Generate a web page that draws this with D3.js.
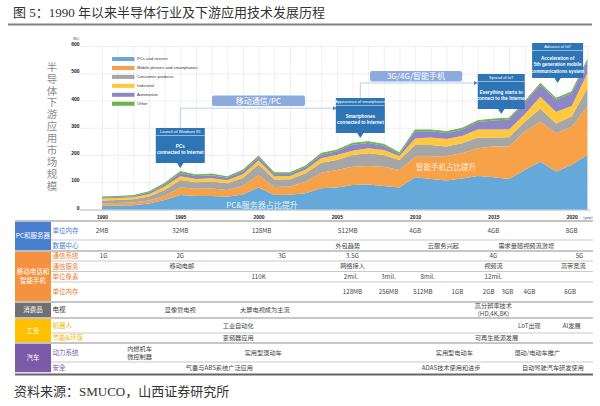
<!DOCTYPE html>
<html>
<head>
<meta charset="utf-8">
<script src="https://cdn.jsdelivr.net/npm/d3@7"></script>
<style>
  body { margin: 0; background: #fff; }
  svg { display: block; font-family: "Noto Sans CJK SC", "Noto Sans", sans-serif; }
</style>
</head>
<body>
<div id="chart"></div>
<script>
// chart data (B$)
var years = [1990, 1991, 1992, 1993, 1994, 1995, 1996, 1997, 1998, 1999, 2000, 2001, 2002, 2003, 2004, 2005,
             2006, 2007, 2008, 2009, 2010, 2011, 2012, 2013, 2014, 2015, 2016, 2017, 2018, 2019, 2020, 2021];
var pcs = [14, 15, 16, 22, 35, 53, 50, 50, 47, 55, 81, 53, 54, 60, 78, 81, 90, 92, 86, 81, 118, 112, 106, 114, 123, 118, 112, 145, 175, 139, 163, 200];
var mobile = [8, 9, 10, 11, 15, 28, 26, 27, 25, 32, 46, 30, 30, 42, 57, 64, 67, 68, 71, 64, 76, 82, 90, 92, 102, 113, 119, 141, 147, 141, 141, 177];
var consumer = [11, 11, 12, 15, 22, 27, 24, 26, 24, 29, 38, 27, 27, 31, 37, 37, 43, 46, 43, 37, 43, 43, 35, 37, 39, 33, 34, 36, 48, 36, 37, 68];
var industrial = [7, 7, 7, 8, 12, 14, 12, 12, 11, 13, 15, 12, 12, 13, 16, 18, 16, 19, 18, 14, 24, 27, 28, 27, 30, 30, 29, 28, 44, 42, 39, 55];
var automotive = [4, 4, 4, 6, 8, 12, 11, 11, 10, 12, 11, 9, 8, 10, 13, 14, 22, 19, 16, 8, 26, 23, 22, 23, 27, 33, 36, 41, 44, 45, 47, 44];
var other = [2, 2, 2, 3, 4, 5, 4, 4, 3, 4, 5, 4, 4, 4, 5, 4, 5, 5, 5, 4, 5, 5, 5, 5, 5, 5, 5, 5, 5, 5, 5, 5];

var seriesNames = ["PCs and servers", "Mobile phones and smartphones", "Consumer products", "Industrial", "Automotive", "Other"];
var yTicks = [0, 100, 200, 300, 400, 500, 600];
var yearTicks = [1990, 1995, 2000, 2005, 2010, 2015, 2020];

// callouts: year they point at, header, body
var callouts = [
  {year: 1995, head: "Launch of Windows 95", body: ["PCs", "connected to Internet"]},
  {year: 2006.5, head: "Appearance of smartphones", body: ["Smartphones", "connected to Internet"]},
  {year: 2015.5, head: "Spread of IoT", body: ["Everything starts to", "connect to the Internet"]},
  {year: 2019.1, head: "Advance of IoT", body: ["Acceleration of", "5th generation mobile", "communications system"]}
];
var phases = ["移动通信/PC", "3G/4G/智能手机"];

// table
var groupNames = ["PC和服务器", "移动电话和\n智能手机", "消费品", "工业", "汽车"];
var rowLabels = ["单位内存", "数据中心", "通信系统", "通信服务", "单位像素", "单位内存", "电视", "机器人", "节能&环保", "动力系统", "安全"];
var rowItems = [
  [[1990, "2MB"], [1995, "32MB"], [2000.2, "128MB"], [2005.7, "512MB"], [2010, "4GB"], [2015, "4GB"], [2020, "8GB"]],
  [[2005.7, "外包趋势"], [2011.8, "云服务兴起"], [2017.1, "需求量随视频流激增"]],
  [[1990.1, "1G"], [1995, "2G"], [2001.5, "3G"], [2006, "3.5G"], [2015, "4G"], [2020.5, "5G"]],
  [[1995.1, "移动电邮"], [2006, "网络接入"], [2015, "视频流"], [2020.1, "高带宽流"]],
  [[2000, "110K"], [2005.9, "2mil."], [2008.3, "3mil."], [2010.8, "8mil."], [2015, "12mil."]],
  [[2006, "128MB"], [2008.3, "256MB"], [2010.5, "512MB"], [2012.7, "1GB"], [2014.7, "2GB"], [2015.9, "3GB"], [2017.3, "4GB"], [2019.9, "6GB"]],
  [[1995, "显像管电视"], [2000.4, "大屏电视成为主流"], [2015, "高分辨率技术\n(HD,4K,8K)"]],
  [[1998.7, "工业自动化"], [2017.3, "LoT出现"], [2020, "AI发展"]],
  [[1998.7, "变频器应用"], [2015.2, "可再生能源发展"]],
  [[1992.4, "内燃机车\n微控制器"], [2000.3, "实用型混动车"], [2012.5, "实用型电动车"], [2017.8, "混动/电动车推广"]],
  [[1997.5, "气囊与ABS系统广泛应用"], [2012.3, "ADAS技术使用和进步"], [2018.8, "自动驾驶汽车研发使用"]]
];

// layout
var colors = ["#64a9d9", "#f7a148", "#a6a6a6", "#ffc83d", "#8e86c5", "#6db150"];
var groupColors = ["#4a7fcf", "#f4923f", "#707070", "#ffc000", "#7b5ba8"];
var labelColors = ["#4a7fcf", "#ed7d31", "#333", "#f5b800", "#7b5ba8"];
var rowGroup = [0, 0, 1, 1, 1, 1, 2, 3, 3, 4, 4];
var rowTops = [221, 240, 251, 261, 271.5, 282, 302, 318, 333, 343, 362, 373];

var svg = d3.select("#chart").append("svg")
    .attr("width", 600)
    .attr("height", 406);

// title
svg.append("text")
    .attr("x", 13).attr("y", 17)
    .style("font-family", "'Liberation Serif', 'Noto Sans CJK SC'")
    .style("font-size", "13px").attr("fill", "#333")
    .text("图 5：1990 年以来半导体行业及下游应用技术发展历程");
svg.append("line").attr("x1", 8).attr("x2", 592).attr("y1", 24.5).attr("y2", 24.5)
    .attr("stroke", "#808080").attr("stroke-width", 2);

// scales
var x = d3.scaleLinear().domain([1990, 2020]).range([102, 571.7]);
var y = d3.scaleLinear().domain([0, 600]).range([209.5, 46]);

// grid + y axis
var yAxis = svg.append("g")
    .attr("transform", "translate(80,0)")
    .call(d3.axisLeft(y).tickValues(yTicks).tickSize(-(590 - 80)).tickPadding(0.5));
yAxis.select(".domain").remove();
yAxis.selectAll("line").attr("stroke", "#d0d0d0").attr("stroke-width", 0.6).attr("stroke-dasharray", "1.2,1");
yAxis.selectAll("text").attr("dy", "-0.1em").style("font-size", "5px").style("font-weight", "bold").attr("fill", "#222")
    .style("font-family", "'Liberation Sans', sans-serif");
svg.append("text").attr("x", 79.5).attr("y", 39.5).attr("text-anchor", "end")
    .style("font-size", "3.5px").attr("fill", "#333").text("(B$)");

var xGrid = svg.append("g")
    .attr("transform", "translate(0,209.5)")
    .call(d3.axisBottom(x).tickValues(years).tickSize(-(209.5 - 46)).tickFormat(""));
xGrid.select(".domain").remove();
xGrid.selectAll("line").attr("stroke", "#d0d0d0").attr("stroke-width", 0.6).attr("stroke-dasharray", "1.2,1");

svg.append("line").attr("x1", 80).attr("x2", 590).attr("y1", 210).attr("y2", 210)
    .attr("stroke", "#cfcfcf").attr("stroke-width", 1.5);

var xAxis = svg.append("g")
    .attr("transform", "translate(0,209.5)")
    .call(d3.axisBottom(x).tickValues(yearTicks).tickSize(0).tickPadding(6).tickFormat(d3.format("d")));
xAxis.select(".domain").remove();
xAxis.selectAll("text").style("font-size", "5px").style("font-weight", "bold").attr("fill", "#222")
    .style("font-family", "'Liberation Sans', sans-serif");
svg.append("text").attr("x", 588).attr("y", 218.5).attr("text-anchor", "middle")
    .style("font-size", "3.5px").attr("fill", "#333").text("(year)");

// y label, written vertically
svg.append("text")
    .attr("x", 52).attr("y", 61.5)
    .style("writing-mode", "vertical-rl")
    .style("letter-spacing", "1.4px")
    .style("font-size", "10.5px").attr("fill", "#8c8c8c")
    .text("半导体下游应用市场规模");

// stacked areas
var table = years.map(function(yr, i) {
  return {year: yr, pcs: pcs[i], mobile: mobile[i], consumer: consumer[i],
          industrial: industrial[i], automotive: automotive[i], other: other[i]};
});
var keys = ["pcs", "mobile", "consumer", "industrial", "automotive", "other"];
var stacked = d3.stack().keys(keys)(table);

var area = d3.area()
    .x(d => x(d.data.year))
    .y0(d => y(d[0]))
    .y1(d => y(d[1]));

svg.append("g").selectAll("path")
    .data(stacked)
    .enter().append("path")
    .attr("d", area)
    .attr("fill", (d, i) => colors[i]);

svg.append("path")
    .datum(stacked[5])
    .attr("d", d3.line().x(d => x(d.data.year)).y(d => y(d[1])))
    .attr("fill", "none").attr("stroke", "#6db150").attr("stroke-width", 0.9);

// in-area labels
svg.append("text").attr("x", 262).attr("y", 207.5).attr("text-anchor", "middle")
    .style("font-size", "8px").attr("fill", "#fff").attr("opacity", 0.85).text("PC&服务器占比提升");
svg.append("text").attr("x", 446).attr("y", 169.5).attr("text-anchor", "middle")
    .style("font-size", "7.5px").attr("fill", "#fff").attr("opacity", 0.85).text("智能手机占比提升");

// legend
var legend = svg.append("g").selectAll("g")
    .data(seriesNames)
    .enter().append("g")
    .attr("transform", (d, i) => `translate(112, ${59 + i * 8.95})`);
legend.append("rect").attr("x", 0).attr("y", -2).attr("width", 22.5).attr("height", 4)
    .attr("fill", (d, i) => colors[i]);
legend.append("text").attr("x", 25).attr("y", 1.4)
    .style("font-size", "4.2px").attr("fill", "#333")
    .style("font-family", "'Liberation Sans', sans-serif")
    .text(d => d);

// connectors and phase boxes
var lineColor = "#9dbde6";
var conn = svg.append("g").attr("fill", "none").attr("stroke", lineColor).attr("stroke-width", 0.7);
conn.append("path").attr("d", `M${x(1995)},128V108.2H334`);
conn.append("path").attr("d", `M${x(2006.5)},98V83H476`);
svg.append("path").attr("d", "M333,106.2L337,108.2L333,110.2Z").attr("fill", "#4a7fcf");
svg.append("path").attr("d", "M474,81L478,83L474,85Z").attr("fill", "#4a7fcf");

var phaseBoxes = [[212, 95.5, 93], [370, 71, 92]];
phaseBoxes.forEach(function(p, i) {
  svg.append("rect").attr("x", p[0]).attr("y", p[1]).attr("width", p[2]).attr("height", 10.5)
      .attr("rx", 2).attr("fill", "#8eaadc");
  svg.append("text").attr("x", p[0] + p[2] / 2).attr("y", p[1] + 8.2).attr("text-anchor", "middle")
      .style("font-size", "8px").attr("fill", "#fff").text(phases[i]);
});

// callout boxes
var boxTops = [128, 98, 74, 43];
var boxWidths = [49, 49, 47, 51];
callouts.forEach(function(c, i) {
  var cx = x(c.year), w = boxWidths[i], top = boxTops[i], bottom = top + 35, tip = bottom + 5;
  var g = svg.append("g");
  g.append("rect").attr("x", cx - w / 2).attr("y", top).attr("width", w).attr("height", bottom - top)
      .attr("fill", "#2e75b6");
  g.append("path").attr("d", `M${cx - 3.5},${bottom - 0.5}L${cx},${tip}L${cx + 3.5},${bottom - 0.5}Z`)
      .attr("fill", "#2e75b6");
  g.append("line").attr("x1", cx - w / 2).attr("x2", cx + w / 2).attr("y1", top + 7.5).attr("y2", top + 7.5)
      .attr("stroke", "#fff").attr("stroke-width", 0.5);
  g.append("text").attr("x", cx).attr("y", top + 5.3).attr("text-anchor", "middle")
      .style("font-size", "4px").attr("fill", "#fff")
      .style("font-family", "'Liberation Sans', sans-serif")
      .text(c.head);
  var mid = (top + 8 + bottom) / 2;
  c.body.forEach(function(t, j) {
    g.append("text").attr("x", cx).attr("y", mid + (j - (c.body.length - 1) / 2) * 6.6 + 1.6)
        .attr("text-anchor", "middle")
        .style("font-size", "4.6px").style("font-weight", "bold").attr("fill", "#fff")
        .style("font-family", "'Liberation Sans', sans-serif")
        .text(t);
  });
});

// table
var tbl = svg.append("g");
var groupSpans = [[0, 1], [2, 5], [6, 6], [7, 8], [9, 10]];
groupSpans.forEach(function(s, gi) {
  var top = rowTops[s[0]], bottom = rowTops[s[1] + 1];
  tbl.append("rect").attr("x", 15).attr("y", top + 0.8).attr("width", 36).attr("height", bottom - top - 1.6)
      .attr("fill", groupColors[gi]);
  var lines = groupNames[gi].split("\n");
  lines.forEach(function(t, j) {
    tbl.append("text").attr("x", 33).attr("y", (top + bottom) / 2 + (j - (lines.length - 1) / 2) * 9 + 2.3)
        .attr("text-anchor", "middle").style("font-size", "6.5px").attr("fill", "#fff").text(t);
  });
});

// row separators
rowTops.forEach(function(t, i) {
  if (i === 0 || i === rowTops.length - 1) return;
  var groupStart = rowGroup[i] !== rowGroup[i - 1];
  tbl.append("line").attr("x1", groupStart ? 15 : 51).attr("x2", 593).attr("y1", t).attr("y2", t)
      .attr("stroke", groupStart ? "#b5b5b5" : "#c9c9c9").attr("stroke-width", groupStart ? 1.6 : 1.2);
});
tbl.append("line").attr("x1", 15).attr("x2", 593).attr("y1", 221).attr("y2", 221)
    .attr("stroke", "#b0b0b0").attr("stroke-width", 1.5);
tbl.append("line").attr("x1", 15).attr("x2", 593).attr("y1", 374.5).attr("y2", 374.5)
    .attr("stroke", "#666").attr("stroke-width", 2);

rowLabels.forEach(function(lab, i) {
  var top = rowTops[i], bottom = rowTops[i + 1], mid = (top + bottom) / 2;
  tbl.append("text").attr("x", 52.5).attr("y", mid + 2.3)
      .style("font-size", "6.5px").attr("fill", labelColors[rowGroup[i]]).text(lab);
  rowItems[i].forEach(function(it) {
    var lines = it[1].split("\n");
    lines.forEach(function(t, j) {
      tbl.append("text").attr("x", x(it[0])).attr("y", mid + (j - (lines.length - 1) / 2) * 8 + 2.2)
          .attr("text-anchor", "middle").style("font-size", "6.2px").attr("fill", "#444").text(t);
    });
  });
});

// source
svg.append("text")
    .attr("x", 14).attr("y", 396)
    .style("font-family", "'Liberation Serif', 'Noto Sans CJK SC'")
    .style("font-size", "13px").attr("fill", "#333")
    .text("资料来源：SMUCO，山西证券研究所");
</script>
</body>
</html>
